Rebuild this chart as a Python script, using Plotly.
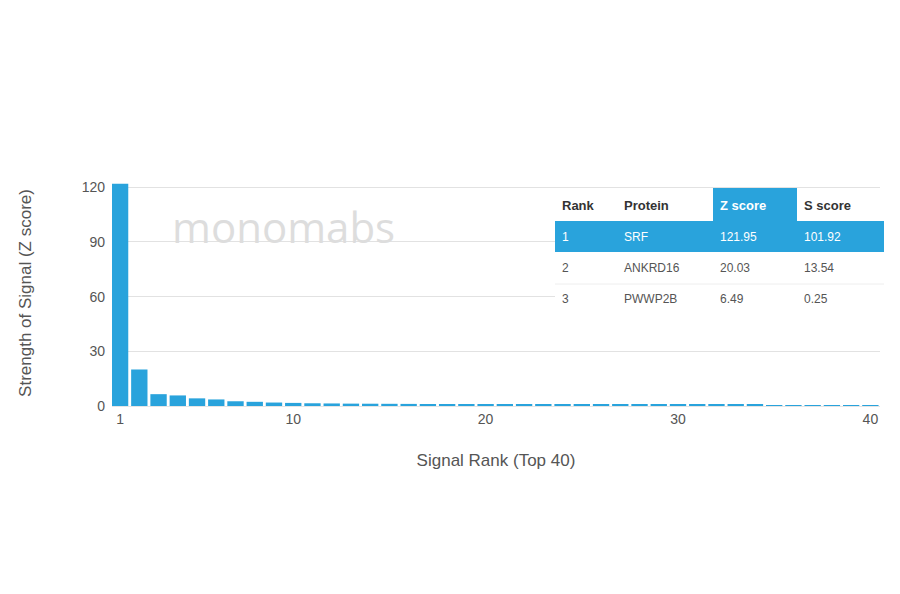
import plotly.graph_objects as go

ranks = list(range(1, 41))
z_scores = [121.95, 20.03, 6.49, 5.8, 4.2, 3.6, 2.6, 2.3, 1.9, 1.7, 1.5, 1.4, 1.3, 1.25, 1.2,
            1.15, 1.1, 1.05, 1.0, 0.95, 0.9, 0.9, 0.85, 0.85, 0.8, 0.8, 0.75, 0.75, 0.7, 0.7,
            0.65, 0.65, 0.6, 0.6, 0.55, 0.55, 0.5, 0.5, 0.45, 0.45]

tbl_header = ["Rank", "Protein", "Z score", "S score"]
tbl_rank = ["1", "2", "3"]
tbl_protein = ["SRF", "ANKRD16", "PWWP2B"]
tbl_z = ["121.95", "20.03", "6.49"]
tbl_s = ["101.92", "13.54", "0.25"]

BLUE = "#29a3dc"
W, H = 900, 594
OFF = 8  # page body margin
# plot area in screen pixels
X0, X1, Y0, Y1 = 112, 880, 180, 406
L, R, T, B = X0 - OFF, W - (X1 - OFF), Y0 - OFF, H - (Y1 - OFF)


def px(x):
    return (x - X0) / (X1 - X0)


def py(y):
    return (Y1 - y) / (Y1 - Y0)


fig = go.Figure(go.Bar(x=ranks, y=z_scores, marker_color=BLUE, marker_line_width=0, width=0.85))

shapes = [
    dict(type="rect", xref="paper", yref="paper", x0=px(555), x1=px(884), y0=py(252), y1=py(221),
         fillcolor=BLUE, line_width=0, layer="above"),
    dict(type="rect", xref="paper", yref="paper", x0=px(713), x1=px(797), y0=py(221), y1=py(188),
         fillcolor=BLUE, line_width=0, layer="above"),
    dict(type="rect", xref="paper", yref="paper", x0=px(555), x1=px(713), y0=py(221), y1=py(188),
         fillcolor="white", line_width=0, layer="above"),
    dict(type="rect", xref="paper", yref="paper", x0=px(797), x1=px(884), y0=py(221), y1=py(188),
         fillcolor="white", line_width=0, layer="above"),
    dict(type="rect", xref="paper", yref="paper", x0=px(555), x1=px(884), y0=py(315), y1=py(252),
         fillcolor="white", line_width=0, layer="above"),
    dict(type="line", xref="paper", yref="paper", x0=px(555), x1=px(884), y0=py(284), y1=py(284),
         line=dict(color="#eeeeee", width=1), layer="above"),
]

anns = []
col_x = [560, 622, 718, 802]
for cx, h in zip(col_x, tbl_header):
    anns.append(dict(x=px(cx), y=py(205), text="<b>%s</b>" % h, xref="paper", yref="paper",
                     xanchor="left", yanchor="middle", showarrow=False,
                     font=dict(size=13, color="white" if h == "Z score" else "#333333")))
row_y = [237, 268, 299]
for i, ry in enumerate(row_y):
    col = "white" if i == 0 else "#555555"
    for cx, v in zip(col_x, [tbl_rank[i], tbl_protein[i], tbl_z[i], tbl_s[i]]):
        anns.append(dict(x=px(cx), y=py(ry), text=v, xref="paper", yref="paper",
                         xanchor="left", yanchor="middle", showarrow=False,
                         font=dict(size=12, color=col)))
anns.append(dict(x=px(283), y=py(226), text="monomabs", xref="paper", yref="paper",
                 xanchor="center", yanchor="middle", showarrow=False,
                 font=dict(size=42, color="#dddddd", family="Open Sans")))

fig.update_layout(
    width=W, height=H, margin=dict(l=L, r=R, t=T, b=B, autoexpand=False),
    paper_bgcolor="white", plot_bgcolor="white", showlegend=False,
    font=dict(family="Liberation Sans", color="#555555", size=14),
    bargap=0.1, shapes=shapes, annotations=anns,
    xaxis=dict(range=[0.58, 40.5], tickvals=[1, 10, 20, 30, 40], showgrid=False, automargin=False,
               title=dict(text="Signal Rank (Top 40)", standoff=28), ticks="",
               showline=True, linecolor="#e5e5e5"),
    yaxis=dict(range=[0, 124], tickvals=[0, 30, 60, 90, 120], gridcolor="#e2e2e2", automargin=False,
               zeroline=False, ticklabelstandoff=6,
               title=dict(text="Strength of Signal (Z score)", standoff=45)),
)

fig.write_html("out.html")
